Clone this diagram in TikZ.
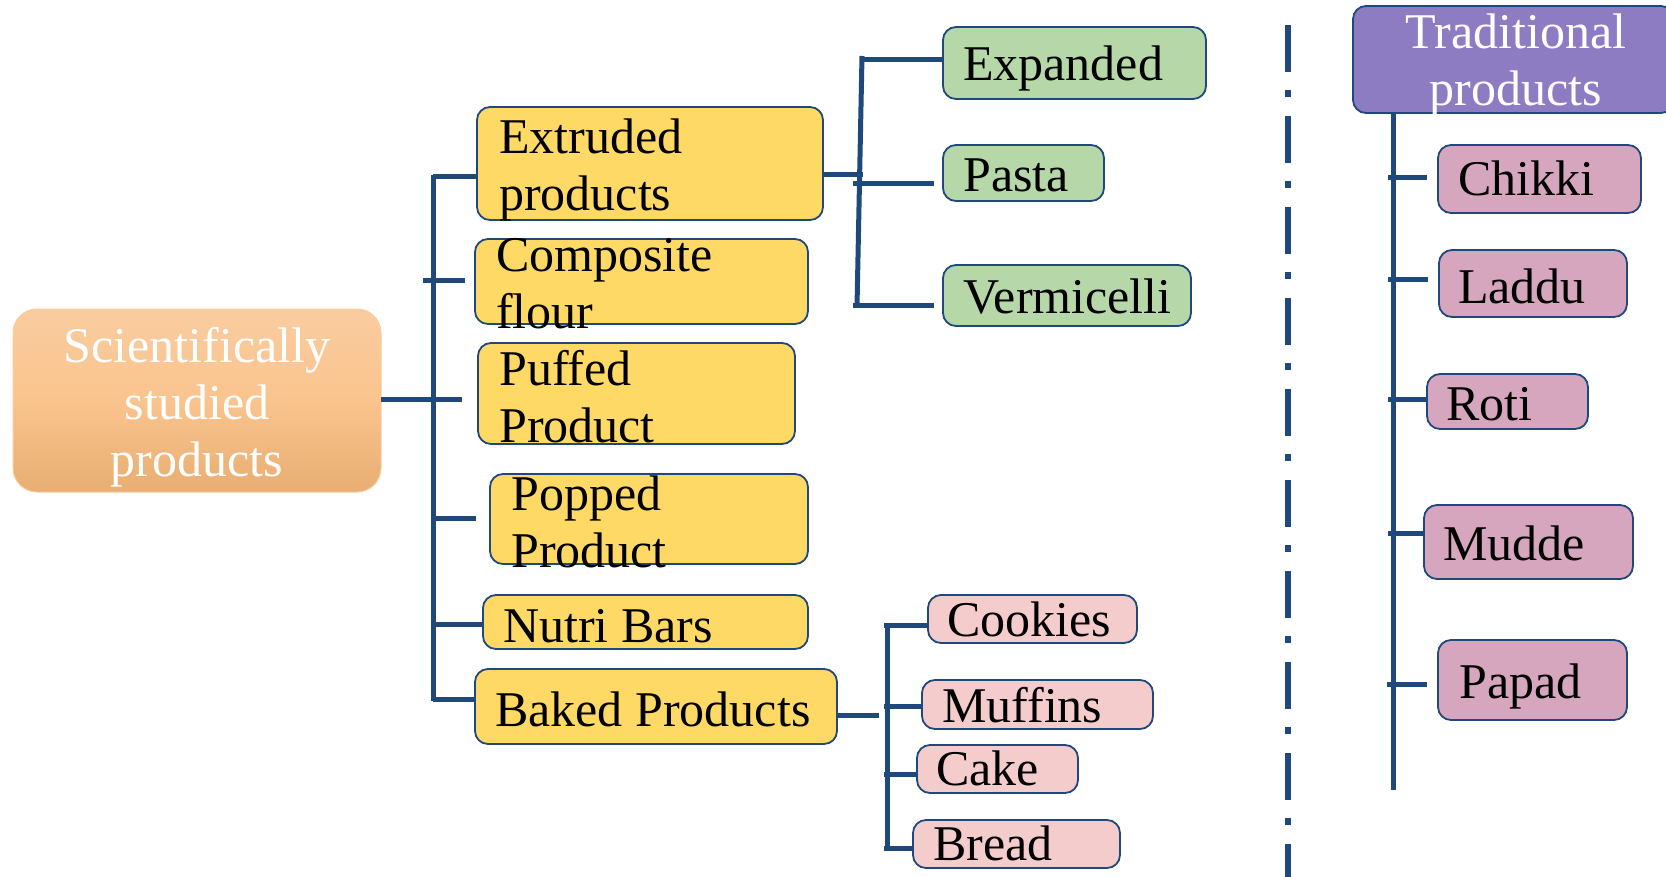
\documentclass[tikz,border=0pt]{standalone}
\usepackage{fontspec}
\setmainfont{Liberation Serif}
\usetikzlibrary{fit}
\definecolor{navy}{HTML}{1F497D}
\definecolor{yel}{HTML}{FFD966}
\definecolor{grn}{HTML}{B6D7A8}
\definecolor{lpink}{HTML}{F4CCCC}
\definecolor{dpink}{HTML}{D5A6BD}
\definecolor{purp}{HTML}{8E7CC3}
\definecolor{orgtop}{HTML}{F9CCA0}
\definecolor{orgmid}{HTML}{FAC48E}
\definecolor{orgbot}{HTML}{E8AE72}
\newcommand\lstack[1]{\vtop{\halign{##\hfil\cr#1\crcr}}}
\newcommand\cstack[1]{\vtop{\halign{\hfil##\hfil\cr#1\crcr}}}
\tikzset{
  box/.style={rectangle, rounded corners=13pt, draw=navy, line width=1.8pt, inner sep=0pt},
  ybox/.style={box, fill=yel},
  gbox/.style={box, fill=grn},
  pbox/.style={box, fill=lpink},
  dbox/.style={box, fill=dpink},
  tbox/.style={box, fill=purp},
  txt/.style={anchor=base west, inner sep=0pt, font=\fontsize{50}{57}\selectfont},
  wtxt/.style={anchor=base, inner sep=0pt, text=white, font=\fontsize{50}{57}\selectfont},
  conn/.style={draw=navy, line width=5pt},
  sep/.style={draw=navy, line width=6.5pt, dash pattern=on 47pt off 18pt on 7pt off 19pt}
}
\begin{document}
\begin{tikzpicture}[x=1pt, y=-1pt]
\useasboundingbox (0,0) rectangle (1666,876);
% root
\node[rectangle, rounded corners=24pt, inner sep=0pt, draw=orgtop, line width=1pt,
      top color=orgtop, bottom color=orgbot, middle color=orgmid,
      fit={(13,309) (381,492)}] (root) {};
\node[wtxt] (roott) at (197,362) {\cstack{Scientifically\cr studied\cr products}};
% level-1 boxes
\node[ybox, fit={(477,107) (823,220)}] (extr) {};
\node[ybox, fit={(475,239) (808,324)}] (comp) {};
\node[ybox, fit={(478,343) (795,444)}] (puff) {};
\node[ybox, fit={(490,474) (808,564)}] (popp) {};
\node[ybox, fit={(483,595) (808,649)}] (nutr) {};
\node[ybox, fit={(475,669) (837,744)}] (bake) {};
\node[txt] at (499,153) {\lstack{Extruded\cr products}};
\node[txt] at (496,271) {\lstack{Composite\cr flour}};
\node[txt] at (499,385) {\lstack{Puffed\cr Product}};
\node[txt] at (511,510) {\lstack{Popped\cr Product}};
\node[txt] at (503,642) {Nutri Bars};
\node[txt] at (495,726) {Baked Products};
% green boxes
\node[gbox, fit={(943,27) (1206,99)}] (expa) {};
\node[gbox, fit={(943,145) (1104,201)}] (past) {};
\node[gbox, fit={(943,265) (1191,326)}] (verm) {};
\node[txt] at (963,80) {Expanded};
\node[txt] at (963,191) {Pasta};
\node[txt] at (963,313) {Vermicelli};
% pink boxes
\node[pbox, fit={(928,595) (1137,643)}] (cook) {};
\node[pbox, fit={(922,680) (1153,729)}] (muff) {};
\node[pbox, fit={(917,745) (1078,793)}] (cake) {};
\node[pbox, fit={(913,820) (1120,868)}] (brea) {};
\node[txt] at (947,636) {Cookies};
\node[txt] at (942,722) {Muffins};
\node[txt] at (936,785) {Cake};
\node[txt] at (933,860) {Bread};
% traditional
\node[tbox, fit={(1353,6) (1674,113)}] (trad) {};
\node[wtxt] at (1516,48) {\cstack{Traditional\cr products}};
\node[dbox, fit={(1438,145) (1641,213)}] (chik) {};
\node[dbox, fit={(1439,250) (1627,317)}] (ladd) {};
\node[dbox, fit={(1427,374) (1588,429)}] (roti) {};
\node[dbox, fit={(1424,505) (1633,579)}] (mudd) {};
\node[dbox, fit={(1438,640) (1627,720)}] (papa) {};
\node[txt] at (1458,195) {Chikki};
\node[txt] at (1458,303) {Laddu};
\node[txt] at (1446,420) {Roti};
\node[txt] at (1443,560) {Mudde};
\node[txt] at (1459,698) {Papad};
% separator
\coordinate (sepT) at (1288,25);
\coordinate (sepB) at (1288,880);
\draw[sep] (sepT) -- (sepB);
% left tree
\coordinate (lt1) at (433,175);
\coordinate (lt2) at (433,701);
\coordinate (sE) at (433,176);
\coordinate (sC) at (423,280);
\coordinate (sR) at (381,399.5);
\coordinate (sPo) at (433,518.5);
\coordinate (sN) at (433,624);
\coordinate (sB) at (433,699);
\draw[conn] (lt1) -- (lt2);
\draw[conn] (sE) -- (sE -| extr.west);
\draw[conn, shorten >=9pt] (sC) -- (sC -| comp.west);
\draw[conn, shorten >=15pt] (sR) -- (sR -| puff.west);
\draw[conn, shorten >=13pt] (sPo) -- (sPo -| popp.west);
\draw[conn] (sN) -- (sN -| nutr.west);
\draw[conn] (sB) -- (sB -| bake.west);
% extruded subtree
\coordinate (eo) at (823,174);
\coordinate (eb) at (863,174);
\coordinate (gb1) at (862,56);
\coordinate (gb2) at (857,307);
\coordinate (gE) at (860,59);
\coordinate (gP) at (853,183);
\coordinate (gV) at (853,305);
\draw[conn] (eo) -- (eb);
\draw[conn] (gb1) -- (gb2);
\draw[conn] (gE) -- (gE -| expa.west);
\draw[conn, shorten >=8pt] (gP) -- (gP -| past.west);
\draw[conn, shorten >=8pt] (gV) -- (gV -| verm.west);
% baked subtree
\coordinate (bo) at (837,715);
\coordinate (bb) at (879,715);
\coordinate (pb1) at (887,623);
\coordinate (pb2) at (887,850);
\coordinate (pC) at (884,625);
\coordinate (pM) at (884,706);
\coordinate (pK) at (884,774);
\coordinate (pB) at (884,848);
\draw[conn] (bo) -- (bb);
\draw[conn] (pb1) -- (pb2);
\draw[conn] (pC) -- (pC -| cook.west);
\draw[conn] (pM) -- (pM -| muff.west);
\draw[conn] (pK) -- (pK -| cake.west);
\draw[conn] (pB) -- (pB -| brea.west);
% traditional tree
\coordinate (rt1) at (1393,113);
\coordinate (rt2) at (1393,790);
\coordinate (rC) at (1388,177);
\coordinate (rL) at (1388,279);
\coordinate (rR) at (1388,399.5);
\coordinate (rM) at (1388,533);
\coordinate (rP) at (1387,684);
\draw[conn] (rt1) -- (rt2);
\draw[conn, shorten >=10pt] (rC) -- (rC -| chik.west);
\draw[conn, shorten >=10pt] (rL) -- (rL -| ladd.west);
\draw[conn] (rR) -- (rR -| roti.west);
\draw[conn] (rM) -- (rM -| mudd.west);
\draw[conn, shorten >=10pt] (rP) -- (rP -| papa.west);
\end{tikzpicture}
\end{document}
